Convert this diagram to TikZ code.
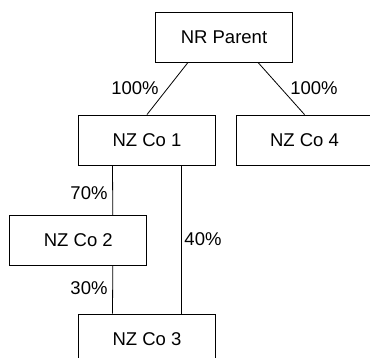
\documentclass[tikz,border=0pt]{standalone}
\usepackage{fontspec}
\setmainfont{Liberation Sans}
\begin{document}
\begin{tikzpicture}[x=1pt,y=-1pt,
                company/.style={draw, rectangle, minimum width=137pt, minimum height=50pt, inner sep=0pt, line width=0.9pt},
                share/.style={inner sep=0pt}]
              \tikzstyle{every node}=[font=\fontsize{18.5}{22}\selectfont]
              \clip (0,0) rectangle (370,358);

              \node[company] (parent) at (224,37) {NR Parent};
              \node[company] (co1) at (147,140) {NZ Co 1};
              \node[company] (co4) at (304.5,140) {NZ Co 4};
              \node[company] (co2) at (78.3,240.5) {NZ Co 2};
              \node[company] (co3) at (147,339) {NZ Co 3};

              \draw[line width=0.8pt] ([xshift=-36pt]parent.south) -- (co1.north);
              \draw[line width=0.8pt] ([xshift=34pt]parent.south) -- (co4.north);
              \draw[line width=0.8pt] ([xshift=-34.5pt]co1.south) -- ([xshift=34.5pt]co2.north);
              \draw[line width=0.8pt] ([xshift=34pt]co1.south) -- ([xshift=34pt]co3.north);
              \draw[line width=0.8pt] ([xshift=34.5pt]co2.south) -- ([xshift=-34.5pt]co3.north);

              \node[share] (p1) at (135,88) {100\%};
              \node[share] (p4) at (314,88) {100\%};
              \node[share] (p2) at (89,193) {70\%};
              \node[share] (p3) at (89,288) {30\%};
              \node[share] (p13) at (203,239.5) {40\%};
            \end{tikzpicture}
\end{document}
